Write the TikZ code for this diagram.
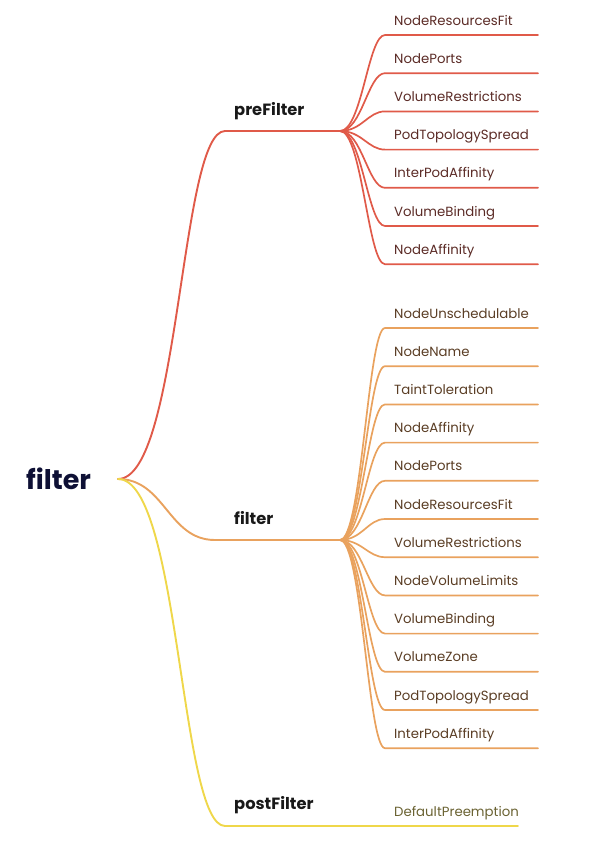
\documentclass[tikz,border=0pt]{standalone}
\usepackage{fontspec}
\setmainfont{Poppins}
\usetikzlibrary{calc}
\definecolor{cred}{HTML}{E05A49}
\definecolor{corange}{HTML}{E9A25E}
\definecolor{cyellow}{HTML}{EFD74A}
\definecolor{tred}{HTML}{5B2B26}
\definecolor{torange}{HTML}{5A3D24}
\definecolor{tyellow}{HTML}{6A6232}
\definecolor{tnavy}{HTML}{0E1035}
\begin{document}
\begin{tikzpicture}[x=1pt,y=-1pt,
  rootlabel/.style={font=\bfseries\fontsize{27}{32}\selectfont, text=tnavy, inner sep=0pt, anchor=west},
  branchlabel/.style={font=\bfseries\fontsize{16.3}{19}\selectfont, text=black!90, inner sep=0pt, anchor=base west},
  leaflabel/.style={font=\fontsize{13.3}{16}\selectfont, inner sep=0pt, anchor=base west},
  mainline/.style={line width=1.9pt, line cap=round},
  leafline/.style={line width=1.7pt, line cap=round}]
\useasboundingbox (0,0) rectangle (592,841);

% root
\node[rootlabel] (root) at (26,479) {filter};
\coordinate (r) at (118,479);

% branch coordinates
\coordinate (pc) at (225,131);
\coordinate (pf) at (340,131);
\coordinate (fc) at (215,540);
\coordinate (ff) at (340,540);
\coordinate (qc) at (225,826);
\coordinate (qe) at (518,826);

% main branches
\draw[mainline, cred] (r) .. controls (180,479) and (180,131) .. (pc) -- (pf);
\draw[mainline, corange] (r) .. controls (165,479) and (168,540) .. (fc) -- (ff);
\draw[mainline, cyellow] (r) .. controls (180,479) and (180,826) .. (qc) -- (qe);

\node[branchlabel] (pre) at (234,115) {preFilter};
\node[branchlabel] (flt) at (234,524) {filter};
\node[branchlabel] (post) at (234,809) {postFilter};

% preFilter leaves
\foreach \t [count=\i from 0] in {NodeResourcesFit,NodePorts,VolumeRestrictions,PodTopologySpread,InterPodAffinity,VolumeBinding,NodeAffinity}{
  \pgfmathsetmacro\yy{35+\i*38.2}
  \coordinate (pk\i) at (385,\yy);
  \coordinate (pe\i) at (538,\yy);
  \node[leaflabel, text=tred] (pl\i) at (394,\yy-10) {\t};
  \draw[leafline, cred] (pf) .. controls ($(pf)+(22,0)$) and ($(pk\i)+(-17,0)$) .. (pk\i) -- (pe\i);
}

% filter leaves
\foreach \t [count=\i from 0] in {NodeUnschedulable,NodeName,TaintToleration,NodeAffinity,NodePorts,NodeResourcesFit,VolumeRestrictions,NodeVolumeLimits,VolumeBinding,VolumeZone,PodTopologySpread,InterPodAffinity}{
  \pgfmathsetmacro\yy{328+\i*38.2}
  \coordinate (fk\i) at (385,\yy);
  \coordinate (fe\i) at (538,\yy);
  \node[leaflabel, text=torange] (fl\i) at (394,\yy-10) {\t};
  \draw[leafline, corange] (ff) .. controls ($(ff)+(22,0)$) and ($(fk\i)+(-17,0)$) .. (fk\i) -- (fe\i);
}

% postFilter leaf
\node[leaflabel, text=tyellow] (ql0) at (394,816) {DefaultPreemption};
\end{tikzpicture}
\end{document}
